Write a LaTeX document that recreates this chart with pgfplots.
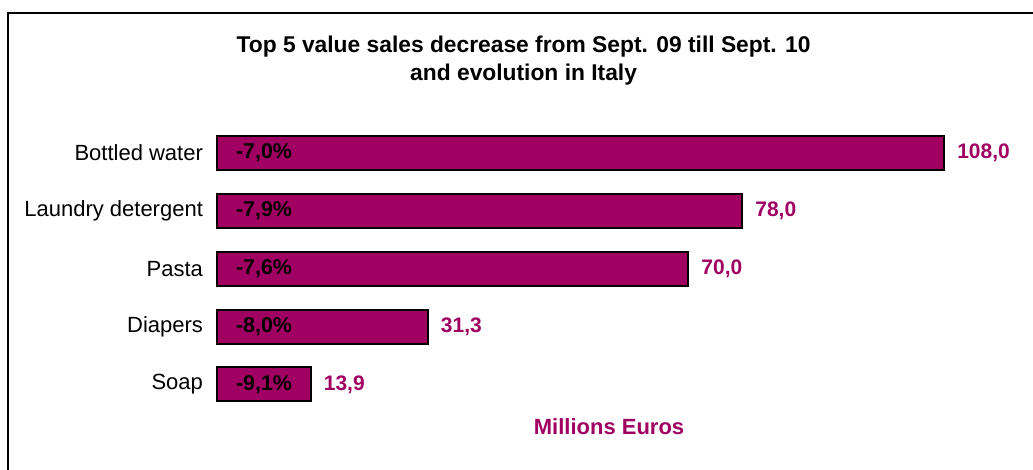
\documentclass[border=0pt]{standalone}
\usepackage{fontspec}
\setmainfont{Liberation Sans}
\usepackage{pgfplots}
\usepackage{pgfplotstable}
\pgfplotsset{compat=1.18}
\definecolor{barc}{RGB}{160,0,98}
\pgfplotstableread{
y val lab pct
0 13.9 13,9 -9,1\%
1 31.3 31,3 -8,0\%
2 70.0 70,0 -7,6\%
3 78.0 78,0 -7,9\%
4 108.0 108,0 -7,0\%
}\datatab
\begin{document}
\begin{tikzpicture}
\useasboundingbox (0,0) rectangle (516.5pt,-235pt);
\draw[line width=0.75pt] (4pt,-235pt) -- (4pt,-6.5pt) -- (516.5pt,-6.5pt);
\node[align=center, font=\fontsize{11.4}{14}\selectfont\bfseries] at (261.8pt,-30.5pt)
  {Top 5 value sales decrease from Sept. 09 till Sept. 10\\and evolution in Italy};
\begin{axis}[
  at={(108.5pt,-206.6pt)}, anchor=south west,
  scale only axis, width=363.5pt, height=144.5pt,
  xmin=0, xmax=108, ymin=-0.5, ymax=4.5,
  axis lines*=left, axis line style={draw=none},
  xtick=\empty, ytick={0,1,2,3,4},
  yticklabels={Soap,Diapers,Pasta,Laundry detergent,Bottled water},
  major tick length=0pt,
  yticklabel style={font=\fontsize{11}{12}\selectfont, xshift=-3.5pt},
  clip=false,
]
\addplot[xbar, bar width=17pt, fill=barc, draw=black, line width=1pt,
  nodes near coords={\pgfplotspointmeta},
  point meta=explicit symbolic,
  every node near coord/.style={anchor=west, xshift=2.8pt, text=barc, font=\fontsize{10.5}{12}\selectfont\bfseries}]
  table[x=val, y=y, meta=lab] {\datatab};
\addplot[draw=none, mark=none,
  nodes near coords={\pgfplotspointmeta},
  point meta=explicit symbolic,
  every node near coord/.style={anchor=west, xshift=6pt, text=black, font=\fontsize{10.7}{12}\selectfont\bfseries}]
  table[x expr=0, y=y, meta=pct] {\datatab};
\end{axis}
\node[font=\fontsize{11}{12}\selectfont\bfseries, text=barc] at (304.5pt,-213.5pt) {Millions Euros};
\end{tikzpicture}
\end{document}
